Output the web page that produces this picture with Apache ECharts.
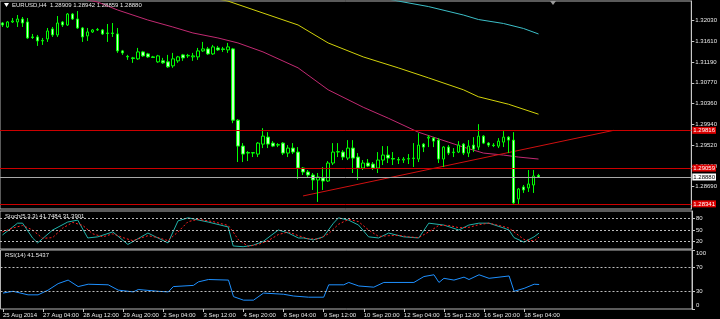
<!DOCTYPE html>
<html><head><meta charset="utf-8">
<script src="https://cdn.jsdelivr.net/npm/echarts@6/dist/echarts.min.js"></script>
<style>html,body{margin:0;padding:0;background:#000}#c{width:720px;height:319px}</style>
</head><body><div id="c"></div>
<script>
// ---------- data ----------
const headerSymbol = 'EURUSD,H4';
const headerQuote = '1.28909 1.28942 1.28859 1.28880';
const stochLabel = 'Stoch(5,3,3) 41.7484 31.3901';
const rsiLabel = 'RSI(14) 41.5437';

// H4 candles: [open, close, low, high]
const candles = [
[1.3197,1.3193,1.3189,1.3199],[1.3189,1.3199,1.3187,1.3201],[1.3199,1.3201,1.3197,1.3207],[1.3199,1.3205,1.3189,1.3213],
[1.3205,1.3197,1.3189,1.3209],[1.3199,1.3167,1.3165,1.3207],[1.3169,1.3168,1.3165,1.3175],[1.3169,1.3161,1.3151,1.3173],
[1.3161,1.3162,1.3153,1.3167],[1.3165,1.3181,1.3159,1.3187],[1.3185,1.3173,1.3169,1.3189],[1.3173,1.3197,1.3169,1.3211],
[1.3199,1.3193,1.3189,1.3201],[1.3193,1.3215,1.3191,1.3217],[1.3215,1.3205,1.3203,1.3217],[1.3205,1.3187,1.3185,1.3221],
[1.3187,1.3169,1.3159,1.3189],[1.3171,1.3179,1.3161,1.3187],[1.3179,1.3183,1.3177,1.3185],[1.3183,1.3184,1.3181,1.3187],
[1.3183,1.3175,1.3173,1.3185],[1.3177,1.3176,1.3159,1.3195],[1.3177,1.3176,1.3169,1.3197],[1.3175,1.3141,1.3137,1.3187],
[1.3141,1.3137,1.3133,1.3143],[1.3130,1.3129,1.3123,1.3133],[1.3127,1.3126,1.3117,1.3129],[1.3125,1.3139,1.3123,1.3147],
[1.3139,1.3131,1.3129,1.3141],[1.3135,1.3129,1.3127,1.3137],[1.3129,1.3128,1.3127,1.3131],[1.3119,1.3131,1.3117,1.3133],
[1.3121,1.3117,1.3115,1.3127],[1.3119,1.3109,1.3107,1.3133],[1.3111,1.3125,1.3107,1.3137],[1.3121,1.3129,1.3117,1.3131],
[1.3133,1.3127,1.3121,1.3135],[1.3131,1.3132,1.3127,1.3135],[1.3129,1.3131,1.3121,1.3137],[1.3129,1.3141,1.3123,1.3147],
[1.3141,1.3145,1.3139,1.3159],[1.3145,1.3135,1.3133,1.3149],[1.3135,1.3149,1.3133,1.3153],[1.3147,1.3143,1.3141,1.3151],
[1.3145,1.3144,1.3139,1.3149],[1.3143,1.3149,1.3137,1.3157],[1.3145,1.3002,1.2996,1.3147],[1.3002,1.2950,1.2918,1.3004],
[1.2950,1.2934,1.2918,1.2956],[1.2937,1.2936,1.2920,1.2940],[1.2936,1.2937,1.2928,1.2938],[1.2934,1.2956,1.2928,1.2958],
[1.2954,1.2970,1.2946,1.2986],[1.2968,1.2954,1.2946,1.2978],[1.2956,1.2950,1.2948,1.2960],[1.2952,1.2953,1.2948,1.2956],
[1.2956,1.2936,1.2932,1.2958],[1.2936,1.2946,1.2928,1.2952],[1.2946,1.2938,1.2934,1.2956],[1.2938,1.2906,1.2884,1.2948],
[1.2906,1.2898,1.2892,1.2908],[1.2898,1.2892,1.2888,1.2902],[1.2892,1.2882,1.2862,1.2896],[1.2882,1.2888,1.2838,1.2896],
[1.2886,1.2880,1.2862,1.2908],[1.2880,1.2916,1.2878,1.2920],[1.2916,1.2938,1.2912,1.2956],[1.2938,1.2939,1.2928,1.2956],
[1.2938,1.2928,1.2922,1.2942],[1.2926,1.2946,1.2922,1.2962],[1.2946,1.2926,1.2896,1.2962],[1.2928,1.2906,1.2882,1.2936],
[1.2906,1.2916,1.2902,1.2922],[1.2916,1.2910,1.2908,1.2924],[1.2914,1.2906,1.2902,1.2918],[1.2906,1.2922,1.2896,1.2938],
[1.2922,1.2932,1.2912,1.2950],[1.2932,1.2926,1.2916,1.2950],[1.2925,1.2924,1.2912,1.2938],[1.2923,1.2922,1.2914,1.2928],
[1.2922,1.2924,1.2916,1.2928],[1.2924,1.2925,1.2914,1.2934],[1.2925,1.2926,1.2908,1.2956],[1.2924,1.2952,1.2918,1.2976],
[1.2954,1.2948,1.2938,1.2956],[1.2966,1.2968,1.2948,1.2972],[1.2966,1.2960,1.2948,1.2968],[1.2962,1.2924,1.2916,1.2966],
[1.2924,1.2948,1.2908,1.2950],[1.2948,1.2936,1.2932,1.2952],[1.2937,1.2938,1.2928,1.2946],[1.2938,1.2952,1.2936,1.2960],
[1.2954,1.2936,1.2932,1.2956],[1.2936,1.2950,1.2928,1.2962],[1.2952,1.2944,1.2938,1.2968],[1.2948,1.2970,1.2942,1.2994],
[1.2970,1.2956,1.2954,1.2972],[1.2956,1.2952,1.2948,1.2958],[1.2952,1.2951,1.2948,1.2956],[1.2950,1.2960,1.2946,1.2966],
[1.2958,1.2968,1.2948,1.2980],[1.2968,1.2962,1.2936,1.2970],[1.2962,1.2836,1.2834,1.2978],[1.2844,1.2864,1.2834,1.2866],
[1.2868,1.2862,1.2856,1.2872],[1.2866,1.2874,1.2858,1.2902],[1.2872,1.2890,1.2856,1.2902],[1.28909,1.28880,1.28859,1.28942]
];

// moving averages, read as [bar index, price]
const maCyan = [[72,1.3255],[79,1.3241],[85,1.3230],[92,1.3213],[95,1.3204],[100,1.3196],[104,1.3186],[107,1.3175]];
const maYellow = [[40,1.3251],[45,1.3241],[52,1.3217],[59,1.3193],[65,1.3157],[72,1.3129],[79,1.3107],[85,1.3087],[92,1.3063],[95,1.3049],[101,1.3034],[107,1.3014]];
const maMagenta = [[14,1.3250],[19,1.3239],[23,1.3223],[29,1.3203],[34,1.3189],[38,1.3177],[43,1.3167],[47,1.3157],[52,1.3139],[59,1.3107],[65,1.3063],[72,1.3028],[77,1.3006],[83,1.2978],[89,1.2958],[92,1.2948],[96,1.2936],[100,1.2932],[103,1.2928],[107,1.2924]];
const trendLine = [[60,1.2850],[122,1.29816]];
const redLevels = [1.29816, 1.29059, 1.28341];
const bidPrice = 1.28880;
const priceTicks = [1.32030,1.31610,1.31190,1.30770,1.30360,1.29940,1.29520,1.29100,1.28690];

// stochastic
const stochK = [[0,37],[3,68],[4,68],[6,29],[7,16],[10,50],[13,71],[15,76],[17,29],[19,32],[22,45],[25,12],[29,42],[33,16],[35,74],[37,82],[41,71],[45,58],[46,8],[48,6],[50,10],[52,20],[55,50],[57,42],[59,29],[60,29],[62,24],[64,32],[66,68],[67,82],[69,76],[71,63],[73,32],[75,29],[77,42],[80,32],[83,29],[85,68],[88,63],[91,50],[93,63],[95,68],[97,68],[100,55],[101,50],[102,30],[104,18],[106,32],[107,41.75]];
const stochD = [[0,45],[2,55],[4,62],[6,50],[8,28],[10,30],[12,55],[14,70],[16,62],[18,40],[20,32],[22,40],[24,30],[26,22],[29,35],[31,30],[33,22],[35,45],[37,72],[39,78],[42,72],[45,62],[46,45],[47,25],[49,7],[51,12],[53,22],[55,38],[57,45],[59,35],[61,27],[63,26],[65,40],[67,65],[69,78],[71,72],[73,50],[75,33],[77,35],[79,36],[81,32],[83,30],[85,45],[87,62],[89,62],[91,56],[93,57],[95,64],[97,68],[99,62],[101,55],[102,45],[104,25],[106,21],[107,31.39]];
const stochLevels = [80, 50, 20];
const stochTicks = [0, 20, 50, 80, 100];

// RSI
const rsi = [[0,27],[2,30],[5,24],[7,24],[9,32],[11,43],[13,49],[15,38],[17,42],[21,41],[23,32],[26,29],[27,33],[31,30],[33,29],[34,38],[38,40],[39,46],[41,50],[45,49],[46,21],[48,15],[50,15],[52,27],[56,25],[58,22],[61,20],[64,20],[65,41],[68,41],[69,45],[71,39],[74,37],[76,45],[82,45],[84,55],[86,58],[87,45],[88,52],[90,49],[92,54],[93,50],[95,58],[97,52],[101,56],[102,30],[104,35],[106,42],[107,41.54]];
const rsiLevels = [70, 30];
const rsiTicks = [0, 30, 70, 100];

// time axis
const timeTickIndex = [0,8,16,24,32,40,48,56,64,72,80,88,96,104];
const timeTickLabels = ['25 Aug 2014','27 Aug 04:00','28 Aug 12:00','29 Aug 20:00','2 Sep 04:00','3 Sep 12:00','4 Sep 20:00','8 Sep 04:00','9 Sep 12:00','10 Sep 20:00','12 Sep 04:00','15 Sep 12:00','16 Sep 20:00','18 Sep 04:00'];
const totalSlots = 138;

// ---------- chart ----------
const FONT = 'Liberation Sans';
const FS = 6;
const TXT = '#e8e8e8';
const slots = Array.from({length: totalSlots}, (_, i) => i);
const chart = echarts.init(document.getElementById('c'), null, {renderer: 'canvas'});

function edgeFmt(maxV) {
  return v => v === maxV ? '{t|' + v + '}' : (v === 0 ? '{b|0}' : String(v));
}
const edgeRich = {
  t: {padding: [7,0,0,0], fontSize: FS, color: TXT, fontFamily: FONT},
  b: {padding: [0,0,7,0], fontSize: FS, color: TXT, fontFamily: FONT}
};
function xAx(gi, showLabels) {
  return {
    type: 'category', gridIndex: gi, data: slots, boundaryGap: true,
    axisLine: {show: false},
    axisTick: showLabels ? {show: true, alignWithLabel: true, length: 3,
      interval: i => timeTickIndex.includes(i), lineStyle: {color: '#c8c8c8'}} : {show: false},
    axisLabel: showLabels ? {
      show: true, color: TXT, fontSize: FS, fontFamily: FONT, align: 'left', margin: 3,
      interval: i => timeTickIndex.includes(i),
      formatter: (v, i) => { const k = timeTickIndex.indexOf(Number(v)); return k >= 0 ? timeTickLabels[k] : ''; }
    } : {show: false},
    splitLine: {show: false}
  };
}
function levelLine(vals) {
  return {
    silent: true, symbol: ['none','none'], animation: false, precision: 5,
    lineStyle: {color: '#bdbdbd', type: [2,2], width: 1},
    label: {show: false},
    data: vals.map(v => ({yAxis: v}))
  };
}
const gridBase = {left: 0, right: 28, show: true, borderColor: '#b4b4b4', borderWidth: 1, backgroundColor: '#000'};

const option = {
  animation: false,
  backgroundColor: '#000',
  textStyle: {fontFamily: FONT},
  grid: [
    Object.assign({top: 1, height: 208}, gridBase),
    Object.assign({top: 211, height: 38}, gridBase),
    Object.assign({top: 250, height: 59}, gridBase)
  ],
  xAxis: [xAx(0, false), xAx(1, false), xAx(2, true)],
  yAxis: [
    {
      gridIndex: 0, type: 'value', position: 'right', min: 1.282379, max: 1.324112, scale: true,
      axisLine: {show: true, lineStyle: {color: '#c8c8c8'}},
      axisTick: {show: true, length: 3, customValues: priceTicks, lineStyle: {color: '#c8c8c8'}},
      axisLabel: {show: true, customValues: priceTicks, color: TXT, fontSize: FS, fontFamily: FONT, margin: 4,
        formatter: v => Number(v).toFixed(5)},
      splitLine: {show: false}
    },
    {
      gridIndex: 1, type: 'value', position: 'right', min: 0, max: 100,
      axisLine: {show: true, lineStyle: {color: '#c8c8c8'}},
      axisTick: {show: true, length: 3, customValues: stochTicks, lineStyle: {color: '#c8c8c8'}},
      axisLabel: {show: true, customValues: stochTicks, color: TXT, fontSize: FS, fontFamily: FONT, margin: 4,
        formatter: edgeFmt(100), rich: edgeRich},
      splitLine: {show: false}
    },
    {
      gridIndex: 2, type: 'value', position: 'right', min: 0, max: 100,
      axisLine: {show: true, lineStyle: {color: '#c8c8c8'}},
      axisTick: {show: true, length: 3, customValues: rsiTicks, lineStyle: {color: '#c8c8c8'}},
      axisLabel: {show: true, customValues: rsiTicks, color: TXT, fontSize: FS, fontFamily: FONT, margin: 4,
        formatter: edgeFmt(100), rich: edgeRich},
      splitLine: {show: false}
    }
  ],
  series: [
    {
      type: 'line', xAxisIndex: 0, yAxisIndex: 0, data: maCyan, showSymbol: false, clip: true,
      lineStyle: {color: '#3cbfc8', width: 1}, z: 3
    },
    {
      type: 'line', xAxisIndex: 0, yAxisIndex: 0, data: maYellow, showSymbol: false, clip: true,
      lineStyle: {color: '#d2d20a', width: 1}, z: 3
    },
    {
      type: 'line', xAxisIndex: 0, yAxisIndex: 0, data: maMagenta, showSymbol: false, clip: true,
      lineStyle: {color: '#c22a72', width: 1}, z: 3
    },
    {
      type: 'line', xAxisIndex: 0, yAxisIndex: 0, data: trendLine, showSymbol: false, clip: true,
      lineStyle: {color: '#d01010', width: 1}, z: 3
    },
    {
      type: 'candlestick', xAxisIndex: 0, yAxisIndex: 0, data: candles, barWidth: 3, clip: true, z: 4,
      itemStyle: {
        color: '#000000', color0: '#ccffcc',
        borderColor: '#00ff00', borderColor0: '#00ff00', borderColorDoji: '#00ff00', borderWidth: 1
      },
      markLine: {
        silent: true, symbol: ['none','none'], animation: false, z: 5, precision: 5,
        lineStyle: {color: '#cc0000', width: 1, type: 'solid'},
        label: {
          show: true, position: 'end', distance: 1, formatter: p => Number(p.value).toFixed(5),
          color: '#ffffff', backgroundColor: '#dd0000', fontSize: FS, fontFamily: FONT, padding: [1,1,0,1]
        },
        data: redLevels.map(v => ({yAxis: v})).concat([{
          yAxis: bidPrice,
          lineStyle: {color: '#a8a8a8', width: 1, type: 'solid'},
          label: {color: '#000000', backgroundColor: '#ffffff'}
        }])
      }
    },
    {
      type: 'line', xAxisIndex: 1, yAxisIndex: 1, data: stochK, showSymbol: false, clip: true,
      lineStyle: {color: '#20b2aa', width: 1}, markLine: levelLine(stochLevels), z: 3
    },
    {
      type: 'line', xAxisIndex: 1, yAxisIndex: 1, data: stochD, showSymbol: false, clip: true,
      lineStyle: {color: '#ff2020', width: 1, type: [2,2]}, z: 3
    },
    {
      type: 'line', xAxisIndex: 2, yAxisIndex: 2, data: rsi, showSymbol: false, clip: true,
      lineStyle: {color: '#1e90ff', width: 1}, markLine: levelLine(rsiLevels), z: 3
    }
  ],
  graphic: [
    {type: 'polygon', shape: {points: [[4,3],[9,3],[6.5,7]]}, style: {fill: '#ffffff'}, z: 10},
    {type: 'text', x: 12, y: 5.5, style: {text: headerSymbol + '  ' + headerQuote, fill: TXT, fontSize: FS, fontFamily: FONT, verticalAlign: 'middle'}, z: 10},
    {type: 'text', x: 5, y: 216.5, style: {text: stochLabel, fill: TXT, fontSize: FS, fontFamily: FONT, verticalAlign: 'middle'}, z: 10},
    {type: 'text', x: 5, y: 255, style: {text: rsiLabel, fill: TXT, fontSize: FS, fontFamily: FONT, verticalAlign: 'middle'}, z: 10},
    {type: 'polygon', shape: {points: [[550,1],[556,1],[553,5]]}, style: {fill: '#9a9a9a'}, z: 10}
  ]
};
chart.setOption(option);
</script>
</body></html>
